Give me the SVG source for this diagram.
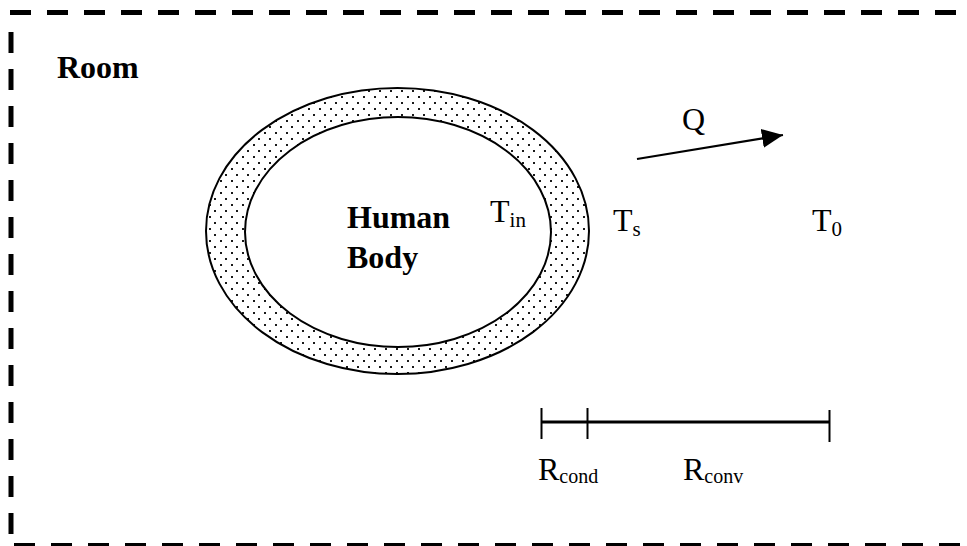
<svg xmlns="http://www.w3.org/2000/svg" width="967" height="546" viewBox="0 0 967 546">
<style>
.t{font-family:"Liberation Serif","Times New Roman",serif;font-size:32px;fill:#000}
.b{font-weight:bold}
.sub{font-size:21px}
.sub2{font-size:20px}
.border{stroke:#000;stroke-width:5;fill:none;stroke-dasharray:21 16}
.ln{stroke:#000;fill:none}
</style>
<defs>
<pattern id="dots" patternUnits="userSpaceOnUse" x="0" y="0" width="11" height="12">
<rect x="0" y="0" width="2" height="2" fill="#1a1a1a"/>
<rect x="5" y="6" width="2" height="2" fill="#1a1a1a"/>
</pattern>
<marker id="arr" markerUnits="userSpaceOnUse" markerWidth="23" markerHeight="20" refX="21" refY="9.5" orient="auto">
<path d="M0,0 L21,9.5 L0,19 Z" fill="#000"/>
</marker>
</defs>
<g id="room">
<line class="border" x1="10" y1="12.5" x2="967" y2="12.5"/>
<line class="border" x1="11" y1="32" x2="11" y2="540"/>
<line class="border" x1="14" y1="545.5" x2="967" y2="545.5"/>
<text class="t b" x="57" y="78">Room</text>
</g>
<g id="body">
<ellipse cx="397.5" cy="231" rx="191.5" ry="143" fill="url(#dots)" stroke="#000" stroke-width="2"/>
<ellipse cx="398" cy="232" rx="153" ry="115" fill="#fff" stroke="#000" stroke-width="2"/>
<text class="t b" x="347" y="228">Human</text>
<text class="t b" x="347" y="268">Body</text>
</g>
<g id="temps">
<text class="t" x="490" y="222">T<tspan class="sub" dy="5">in</tspan></text>
<text class="t" x="613" y="231">T<tspan class="sub" dy="5">s</tspan></text>
<text class="t" x="812" y="231">T<tspan class="sub" dy="5">0</tspan></text>
</g>
<g id="connectors">
<line class="ln" x1="637" y1="159" x2="783" y2="135" stroke-width="2" marker-end="url(#arr)"/>
<text class="t" x="682" y="130">Q</text>
</g>
<g id="scale">
<line class="ln" x1="541" y1="422" x2="830" y2="422" stroke-width="3"/>
<line class="ln" x1="541.5" y1="408" x2="541.5" y2="439" stroke-width="2"/>
<line class="ln" x1="587.5" y1="408" x2="587.5" y2="439" stroke-width="2"/>
<line class="ln" x1="829.5" y1="410" x2="829.5" y2="442" stroke-width="2"/>
<text class="t" x="538" y="480">R<tspan class="sub2" dy="3">cond</tspan></text>
<text class="t" x="683" y="480">R<tspan class="sub2" dy="3">conv</tspan></text>
</g>
</svg>
